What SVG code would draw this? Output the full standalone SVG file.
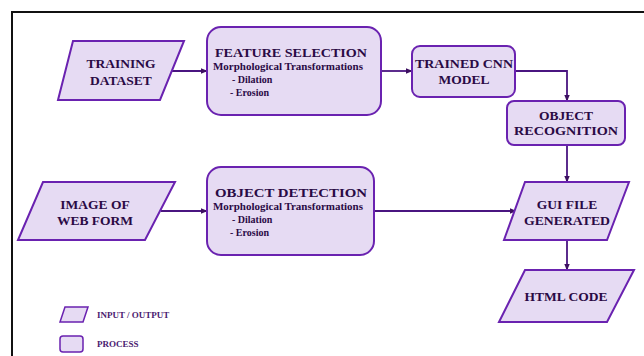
<svg xmlns="http://www.w3.org/2000/svg" width="644" height="356" viewBox="0 0 644 356">
<defs>
<marker id="ah" viewBox="0 0 10 10" refX="9" refY="5" markerWidth="7" markerHeight="7" orient="auto" markerUnits="userSpaceOnUse">
<path d="M0,1 L10,5 L0,9 z" fill="#3d1060"/>
</marker>
</defs>
<style>
.shape{fill:#e6dbf3;stroke:#6a22b0;stroke-width:2}
text{font-family:'Liberation Serif','DejaVu Serif',serif;font-weight:bold}
.t{fill:#2a0a45;text-anchor:middle}
.h{font-size:13.5px}
.s{font-size:10px}
.l{fill:#4a2070;font-size:9px}
.c{fill:none;stroke:#4a1580;stroke-width:1.8}
</style>
<rect x="0" y="0" width="644" height="356" fill="#ffffff"/>
<rect x="12" y="12" width="640" height="352" fill="none" stroke="#111" stroke-width="2"/>
<g id="connectors">
<line class="c" x1="172" y1="71" x2="207" y2="71" marker-end="url(#ah)"/>
<line class="c" x1="381" y1="71" x2="412" y2="71" marker-end="url(#ah)"/>
<polyline class="c" points="515,71 567,71 567,101" marker-end="url(#ah)"/>
<line class="c" x1="567" y1="145" x2="567" y2="182" marker-end="url(#ah)"/>
<line class="c" x1="161" y1="211" x2="207" y2="211" marker-end="url(#ah)"/>
<line class="c" x1="374" y1="211" x2="516" y2="211" marker-end="url(#ah)"/>
<line class="c" x1="567" y1="240" x2="567" y2="270" marker-end="url(#ah)"/>
</g>
<g id="training-dataset">
<polygon class="shape" points="73,41 184,41 160,100 58,100"/>
<text class="t h" x="121" y="68">TRAINING</text>
<text class="t h" x="121" y="85">DATASET</text>
</g>
<g id="feature-selection">
<rect class="shape" x="207" y="27" width="174" height="88" rx="14"/>
<text class="t h" x="291" y="57" textLength="152" lengthAdjust="spacingAndGlyphs">FEATURE SELECTION</text>
<text class="t s" x="288" y="70" textLength="150" lengthAdjust="spacingAndGlyphs">Morphological Transformations</text>
<text class="t s" x="232" y="83" style="text-anchor:start">- Dilation</text>
<text class="t s" x="230" y="96" style="text-anchor:start">- Erosion</text>
</g>
<g id="trained-cnn">
<rect class="shape" x="412" y="46" width="103" height="51" rx="8"/>
<text class="t h" x="464" y="68" textLength="98" lengthAdjust="spacingAndGlyphs">TRAINED CNN</text>
<text class="t h" x="464" y="84">MODEL</text>
</g>
<g id="object-recognition">
<rect class="shape" x="507" y="101" width="118" height="44" rx="7"/>
<text class="t h" x="566" y="120">OBJECT</text>
<text class="t h" x="566" y="135" textLength="104" lengthAdjust="spacingAndGlyphs">RECOGNITION</text>
</g>
<g id="image-of-web-form">
<polygon class="shape" points="43,182 175,182 145,240 18,240"/>
<text class="t h" x="95" y="209">IMAGE OF</text>
<text class="t h" x="95" y="225">WEB FORM</text>
</g>
<g id="object-detection">
<rect class="shape" x="207" y="167" width="167" height="88" rx="14"/>
<text class="t h" x="291" y="197" textLength="152" lengthAdjust="spacingAndGlyphs">OBJECT DETECTION</text>
<text class="t s" x="288" y="210" textLength="150" lengthAdjust="spacingAndGlyphs">Morphological Transformations</text>
<text class="t s" x="232" y="223" style="text-anchor:start">- Dilation</text>
<text class="t s" x="230" y="236" style="text-anchor:start">- Erosion</text>
</g>
<g id="gui-file">
<polygon class="shape" points="525,182 629,182 607,240 504,240"/>
<text class="t h" x="567" y="209">GUI FILE</text>
<text class="t h" x="567" y="225" textLength="86" lengthAdjust="spacingAndGlyphs">GENERATED</text>
</g>
<g id="html-code">
<polygon class="shape" points="525,270 634,270 607,322 499,322"/>
<text class="t h" x="566" y="301">HTML CODE</text>
</g>
<g id="legend">
<polygon class="shape" style="stroke-width:1.5" points="65,307 88,307 83,322 60,322"/>
<text class="l" x="97" y="317.5">INPUT / OUTPUT</text>
<rect class="shape" style="stroke-width:1.5" x="60" y="336" width="23" height="16" rx="3"/>
<text class="l" x="97" y="347">PROCESS</text>
</g>
</svg>
